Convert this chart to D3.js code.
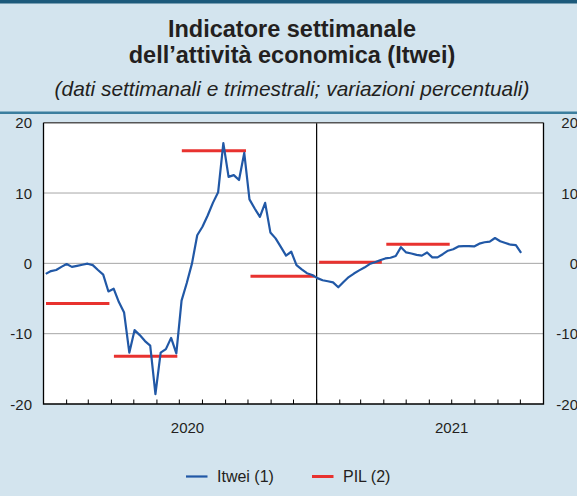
<!DOCTYPE html>
<html>
<head>
<meta charset="utf-8">
<script src="https://cdn.jsdelivr.net/npm/d3@7"></script>
<style>
	body { margin: 0; background: #d3e4ee; }
	svg { display: block; font-family: "Liberation Sans", Arial, sans-serif; }
</style>
</head>
<body>
<svg class="itwei"></svg>
<script>
// weekly Itwei values, first week ending 4 Jan 2020
var itweiStart = "2020-01-04";
var itweiValues = [
	-1.5, -1.1, -0.95, -0.5, -0.1, -0.5, -0.35, -0.2, -0.05, -0.25,
	-0.95, -1.6, -4.0, -3.6, -5.5, -7.0, -12.7, -9.5, -10.2, -11.05,
	-11.7, -18.6, -12.7, -12.2, -10.6, -12.8, -5.3, -2.8, 0.0, 4.0,
	5.2, 6.8, 8.6, 10.1, 17.1, 12.3, 12.55, 11.85, 15.7, 9.1,
	7.8, 6.6, 8.6, 4.4, 3.55, 2.35, 1.1, 1.65, -0.25, -0.85,
	-1.4, -1.65, -2.1, -2.4, -2.55, -2.7, -3.4, -2.65, -1.95, -1.45,
	-1.0, -0.6, -0.1, 0.15, 0.45, 0.7, 0.8, 1.05, 2.3, 1.55,
	1.4, 1.2, 1.1, 1.55, 0.85, 0.85, 1.3, 1.8, 2.0, 2.4,
	2.45, 2.45, 2.4, 2.8, 3.0, 3.1, 3.6, 3.15, 2.9, 2.65,
	2.6, 1.5
];
// quarterly GDP (PIL)
var pilQuarters = ["2020-01-01", "2020-04-01", "2020-07-01", "2020-10-01", "2021-01-01", "2021-04-01"];
var pilValues = [-5.7, -13.2, 16.0, -1.85, 0.15, 2.7];

var yTicks = [-20, -10, 0, 10, 20];
var gridValues = [-10, 0, 10];
var yearLabels = ["2020", "2021"];
var yearLabelDates = ["2020-07-12", "2021-07-01"];
var legendNames = ["Itwei (1)", "PIL (2)"];

var chart = {
	initialize: function(){
		var self = this;
		self._render_view();
		return self;
	},
	_render_view: function(){
		var width = 577, height = 496;
		var blue = "#2158a6", red = "#e8322f";
		var parse = d3.timeParse("%Y-%m-%d");

		var svg = d3.select('svg.itwei')
			.attr('width', width)
			.attr('height', height);

		var x = d3.scaleTime()
			.domain([parse("2020-01-01"), parse("2021-11-01")])
			.range([43.5, 543.5]);
		var y = d3.scaleLinear()
			.domain([-20, 20])
			.range([404, 122.7]);

		// header
		svg.append('rect').attr('x', 0).attr('y', 0).attr('width', width).attr('height', 3.5).attr('fill', '#1c5a7b');
		svg.append('rect').attr('x', 0).attr('y', 111.5).attr('width', width).attr('height', 2.5).attr('fill', '#3b7e9e');
		var titles = [
			{text: "Indicatore settimanale", y: 37, size: 23.5, weight: "bold", style: "normal"},
			{text: "dell\u2019attivit\u00e0 economica (Itwei)", y: 63.3, size: 23.5, weight: "bold", style: "normal"},
			{text: "(dati settimanali e trimestrali; variazioni percentuali)", y: 96.4, size: 20.9, weight: "normal", style: "italic"}
		];
		svg.selectAll('.title')
			.data(titles)
			.enter()
			.append('text')
			.attr('class', 'title')
			.attr('x', 292)
			.attr('y', function(d){ return d.y; })
			.attr('text-anchor', 'middle')
			.attr('font-size', function(d){ return d.size; })
			.attr('font-weight', function(d){ return d.weight; })
			.attr('font-style', function(d){ return d.style; })
			.attr('fill', '#231f20')
			.text(function(d){ return d.text; });

		// plot area
		svg.append('rect')
			.attr('x', x.range()[0]).attr('y', y(20))
			.attr('width', x.range()[1] - x.range()[0])
			.attr('height', y(-20) - y(20))
			.attr('fill', '#ffffff');

		svg.selectAll('.grid')
			.data(gridValues)
			.enter()
			.append('line')
			.attr('class', 'grid')
			.attr('x1', x.range()[0]).attr('x2', x.range()[1])
			.attr('y1', function(d){ return y(d); })
			.attr('y2', function(d){ return y(d); })
			.attr('stroke', '#a6a6a6')
			.attr('stroke-width', 1);

		// month ticks along the bottom, pointing up
		var months = d3.timeMonth.range(d3.timeMonth.offset(x.domain()[0], 1), x.domain()[1]);
		svg.selectAll('.mtick')
			.data(months)
			.enter()
			.append('line')
			.attr('class', 'mtick')
			.attr('x1', function(d){ return x(d); })
			.attr('x2', function(d){ return x(d); })
			.attr('y1', y(-20))
			.attr('y2', y(-20) - 4.5)
			.attr('stroke', '#000')
			.attr('stroke-width', 1);

		// year divider
		svg.append('line')
			.attr('x1', x(parse("2021-01-01"))).attr('x2', x(parse("2021-01-01")))
			.attr('y1', y(20)).attr('y2', y(-20))
			.attr('stroke', '#000').attr('stroke-width', 1.2);

		// frame
		svg.append('line')
			.attr('x1', x.range()[0]).attr('x2', x.range()[1])
			.attr('y1', y(20)).attr('y2', y(20))
			.attr('stroke', '#555').attr('stroke-width', 1.5);
		svg.append('path')
			.attr('d', 'M' + x.range()[0] + ',' + y(20) + 'V' + y(-20) + 'H' + x.range()[1] + 'V' + y(20))
			.attr('fill', 'none')
			.attr('stroke', '#000')
			.attr('stroke-width', 1.3);

		// y labels, both sides
		var ylab = svg.append('g').attr('font-size', 15).attr('fill', '#231f20');
		ylab.selectAll('.yl')
			.data(yTicks)
			.enter()
			.append('text')
			.attr('class', 'yl')
			.attr('x', 32)
			.attr('y', function(d){ return y(d) + 5.5; })
			.attr('text-anchor', 'end')
			.text(function(d){ return d; });
		ylab.selectAll('.yr')
			.data(yTicks)
			.enter()
			.append('text')
			.attr('class', 'yr')
			.attr('x', 578)
			.attr('y', function(d){ return y(d) + 5.5; })
			.attr('text-anchor', 'end')
			.text(function(d){ return d; });

		// year labels
		svg.selectAll('.year')
			.data(yearLabels)
			.enter()
			.append('text')
			.attr('class', 'year')
			.attr('x', function(d, i){ return x(parse(yearLabelDates[i])); })
			.attr('y', 433)
			.attr('text-anchor', 'middle')
			.attr('font-size', 15)
			.attr('fill', '#231f20')
			.text(function(d){ return d; });

		// PIL segments
		svg.selectAll('.pil')
			.data(pilValues)
			.enter()
			.append('line')
			.attr('class', 'pil')
			.attr('x1', function(d, i){ return x(parse(pilQuarters[i])) + 2.5; })
			.attr('x2', function(d, i){ return x(d3.timeMonth.offset(parse(pilQuarters[i]), 3)) - 2; })
			.attr('y1', function(d){ return y(d); })
			.attr('y2', function(d){ return y(d); })
			.attr('stroke', red)
			.attr('stroke-width', 3);

		// Itwei line
		var start = parse(itweiStart);
		var line = d3.line()
			.x(function(d, i){ return x(d3.timeDay.offset(start, i * 7)); })
			.y(function(d){ return y(d); });
		svg.append('path')
			.datum(itweiValues)
			.attr('d', line)
			.attr('fill', 'none')
			.attr('stroke', blue)
			.attr('stroke-width', 2.2)
			.attr('stroke-linejoin', 'round');

		// legend
		var legend = svg.selectAll('.legend')
			.data(legendNames)
			.enter()
			.append('g')
			.attr('class', 'legend')
			.attr('transform', function(d, i){ return 'translate(' + (186 + i * 126) + ',476.5)'; });
		legend.append('line')
			.attr('x1', 0).attr('x2', 21.5)
			.attr('stroke', function(d, i){ return i == 0 ? blue : red; })
			.attr('stroke-width', function(d, i){ return i == 0 ? 2.2 : 3; });
		legend.append('text')
			.attr('x', 31)
			.attr('y', 5.5)
			.attr('font-size', 16)
			.attr('fill', '#231f20')
			.text(function(d){ return d; });
	}
};

chart.initialize();
</script>
</body>
</html>
